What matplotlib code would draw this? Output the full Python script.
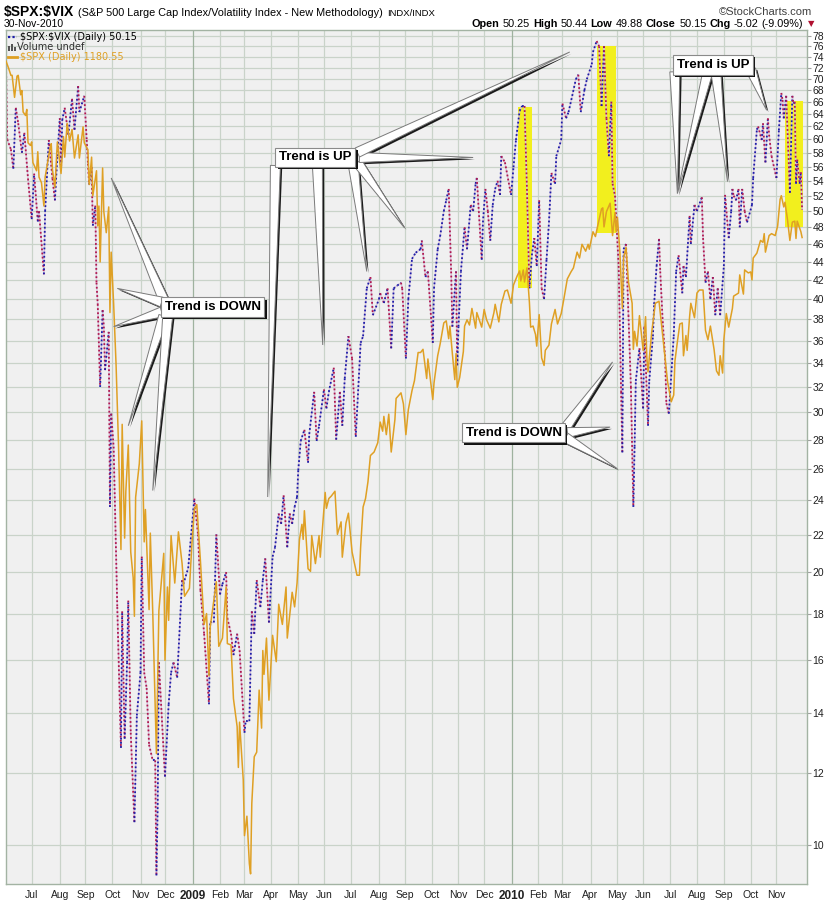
import numpy as np
import pandas as pd
import matplotlib
matplotlib.use("Agg")
import matplotlib.pyplot as plt
from matplotlib.collections import LineCollection
from matplotlib.patches import Rectangle, Polygon
from matplotlib.lines import Line2D
from matplotlib.transforms import IdentityTransform
import matplotlib.patheffects as pe

plt.rcParams["font.family"] = ["Liberation Sans", "DejaVu Sans"]

# $SPX:$VIX ratio (daily)
ratio_dates = [
    "2008-06-02", "2008-06-03", "2008-06-06", "2008-06-10", "2008-06-12", "2008-06-16", "2008-06-19",
    "2008-06-23", "2008-06-26", "2008-07-01", "2008-07-03", "2008-07-08", "2008-07-09", "2008-07-15",
    "2008-07-16", "2008-07-21", "2008-07-24", "2008-07-28", "2008-07-30", "2008-08-01", "2008-08-04",
    "2008-08-05", "2008-08-07", "2008-08-12", "2008-08-15", "2008-08-19", "2008-08-22", "2008-08-25",
    "2008-08-29", "2008-09-02", "2008-09-03", "2008-09-04", "2008-09-08", "2008-09-09", "2008-09-11",
    "2008-09-12", "2008-09-15", "2008-09-17", "2008-09-19", "2008-09-22", "2008-09-23", "2008-09-26",
    "2008-09-29", "2008-09-30", "2008-10-02", "2008-10-07", "2008-10-10", "2008-10-13", "2008-10-15",
    "2008-10-17", "2008-10-20", "2008-10-22", "2008-10-27", "2008-10-29", "2008-11-03", "2008-11-04",
    "2008-11-06", "2008-11-10", "2008-11-12", "2008-11-17", "2008-11-19", "2008-11-20", "2008-11-21",
    "2008-11-24", "2008-12-01", "2008-12-04", "2008-12-08", "2008-12-10", "2008-12-15", "2008-12-19",
    "2008-12-22", "2008-12-26", "2009-01-02", "2009-01-07", "2009-01-09", "2009-01-14", "2009-01-20",
    "2009-01-21", "2009-01-26", "2009-01-28", "2009-02-02", "2009-02-04", "2009-02-09", "2009-02-10",
    "2009-02-13", "2009-02-17", "2009-02-20", "2009-02-24", "2009-03-02", "2009-03-03", "2009-03-06",
    "2009-03-10", "2009-03-12", "2009-03-16", "2009-03-19", "2009-03-23", "2009-03-25", "2009-03-30",
    "2009-04-02", "2009-04-06", "2009-04-09", "2009-04-13", "2009-04-15", "2009-04-20", "2009-04-22",
    "2009-04-24", "2009-04-28", "2009-04-30", "2009-05-01", "2009-05-05", "2009-05-08", "2009-05-13",
    "2009-05-14", "2009-05-20", "2009-05-22", "2009-05-26", "2009-06-01", "2009-06-03", "2009-06-05",
    "2009-06-11", "2009-06-15", "2009-06-18", "2009-06-22", "2009-06-24", "2009-06-29", "2009-07-02",
    "2009-07-07", "2009-07-13", "2009-07-15", "2009-07-20", "2009-07-23", "2009-07-27", "2009-08-03",
    "2009-08-04", "2009-08-07", "2009-08-12", "2009-08-17", "2009-08-19", "2009-08-24", "2009-08-27",
    "2009-08-28", "2009-09-02", "2009-09-04", "2009-09-09", "2009-09-14", "2009-09-18", "2009-09-21",
    "2009-09-24", "2009-09-28", "2009-10-02", "2009-10-05", "2009-10-08", "2009-10-12", "2009-10-15",
    "2009-10-19", "2009-10-21", "2009-10-23", "2009-10-26", "2009-10-29", "2009-10-30", "2009-11-02",
    "2009-11-04", "2009-11-09", "2009-11-11", "2009-11-16", "2009-11-18", "2009-11-20", "2009-11-23",
    "2009-11-27", "2009-11-30", "2009-12-02", "2009-12-04", "2009-12-08", "2009-12-10", "2009-12-14",
    "2009-12-16", "2009-12-18", "2009-12-21", "2009-12-24", "2009-12-31", "2010-01-04", "2010-01-06",
    "2010-01-11", "2010-01-13", "2010-01-15", "2010-01-19", "2010-01-21", "2010-01-25", "2010-01-27",
    "2010-01-29", "2010-02-02", "2010-02-04", "2010-02-08", "2010-02-10", "2010-02-12", "2010-02-16",
    "2010-02-19", "2010-02-22", "2010-02-26", "2010-03-01", "2010-03-04", "2010-03-08", "2010-03-11",
    "2010-03-16", "2010-03-18", "2010-03-22", "2010-03-25", "2010-03-29", "2010-04-02", "2010-04-05",
    "2010-04-08", "2010-04-12", "2010-04-14", "2010-04-16", "2010-04-20", "2010-04-22", "2010-04-26",
    "2010-04-27", "2010-04-29", "2010-05-04", "2010-05-06", "2010-05-07", "2010-05-10", "2010-05-12",
    "2010-05-14", "2010-05-18", "2010-05-20", "2010-05-21", "2010-05-24", "2010-05-27", "2010-06-01",
    "2010-06-02", "2010-06-07", "2010-06-08", "2010-06-11", "2010-06-14", "2010-06-16", "2010-06-18",
    "2010-06-21", "2010-06-23", "2010-06-25", "2010-06-28", "2010-06-30", "2010-07-06", "2010-07-08",
    "2010-07-12", "2010-07-15", "2010-07-16", "2010-07-20", "2010-07-23", "2010-07-26", "2010-07-29",
    "2010-08-02", "2010-08-06", "2010-08-09", "2010-08-11", "2010-08-13", "2010-08-17", "2010-08-19",
    "2010-08-23", "2010-08-25", "2010-08-27", "2010-09-01", "2010-09-02", "2010-09-07", "2010-09-09",
    "2010-09-10", "2010-09-13", "2010-09-15", "2010-09-17", "2010-09-20", "2010-09-22", "2010-09-24",
    "2010-09-28", "2010-10-04", "2010-10-05", "2010-10-08", "2010-10-11", "2010-10-14", "2010-10-15",
    "2010-10-19", "2010-10-21", "2010-10-22", "2010-10-26", "2010-11-01", "2010-11-03", "2010-11-05",
    "2010-11-08", "2010-11-09", "2010-11-11", "2010-11-16", "2010-11-18", "2010-11-19", "2010-11-22",
    "2010-11-23", "2010-11-24", "2010-11-26", "2010-11-29", "2010-11-30",
]
ratio_vals = [
    72.7, 60.0, 58.5, 55.7, 65.0, 62.5, 58.0,
    61.0, 54.3, 49.0, 55.0, 48.7, 50.0, 42.6,
    50.0, 59.9, 54.3, 51.4, 57.5, 63.3, 55.4,
    63.0, 65.0, 60.7, 66.5, 61.5, 68.7, 64.3,
    67.0, 59.9, 56.4, 53.5, 55.9, 48.2, 50.7,
    41.7, 39.5, 32.0, 38.9, 37.3, 33.4, 36.8,
    23.6, 29.9, 27.5, 18.3, 12.8, 18.1, 13.1,
    15.9, 18.6, 13.3, 10.6, 13.9, 15.5, 20.8,
    15.5, 14.9, 12.9, 12.4, 12.4, 9.26, 10.96,
    15.9, 11.9, 14.3, 15.5, 15.9, 15.3, 19.6,
    19.4, 20.2, 24.1, 22.0, 19.1, 17.1, 14.3,
    17.6, 17.6, 22.0, 18.9, 19.4, 20.0, 17.8,
    17.1, 16.2, 17.1, 16.4, 13.3, 13.7, 13.7,
    18.1, 17.1, 19.6, 18.3, 19.6, 20.7, 17.6,
    20.8, 21.3, 23.2, 22.6, 24.3, 21.3, 23.2,
    22.6, 23.6, 24.2, 25.9, 27.9, 28.7, 26.4,
    28.4, 31.6, 27.9, 29.0, 31.8, 30.3, 31.6,
    33.6, 28.0, 31.6, 29.0, 32.7, 36.4, 34.4,
    28.2, 35.8, 36.4, 41.1, 42.3, 38.4, 40.0,
    40.6, 39.6, 41.1, 35.3, 41.1, 41.4, 41.7,
    41.1, 34.4, 40.0, 44.3, 45.0, 45.4, 46.4,
    42.3, 42.9, 35.8, 41.1, 45.4, 46.9, 50.0,
    51.4, 52.9, 42.9, 37.3, 42.9, 33.8, 37.3,
    42.9, 48.0, 45.4, 50.8, 50.0, 53.6, 54.4,
    44.2, 48.6, 52.9, 50.0, 46.4, 50.8, 52.9,
    54.0, 52.1, 57.5, 56.6, 52.1, 55.9, 59.9,
    64.5, 65.3, 65.3, 52.9, 41.1, 44.7, 46.7,
    43.5, 51.4, 41.1, 40.0, 44.2, 48.6, 55.1,
    53.6, 57.5, 59.9, 65.7, 63.3, 64.3, 67.0,
    69.9, 70.7, 64.3, 68.0, 69.9, 72.6, 74.9,
    77.0, 76.0, 65.3, 76.0, 63.3, 57.5, 66.0,
    53.6, 52.0, 43.5, 31.6, 27.1, 45.4, 46.0,
    38.4, 32.0, 23.6, 27.5, 32.5, 35.3, 30.3,
    37.3, 29.0, 32.5, 36.4, 39.5, 43.5, 46.6,
    42.9, 37.8, 34.4, 30.7, 29.9, 36.4, 42.9,
    44.7, 40.6, 43.5, 42.3, 49.4, 46.0, 50.8,
    50.0, 51.8, 46.7, 41.7, 42.9, 40.0, 42.3,
    38.4, 41.1, 38.4, 43.5, 52.1, 46.7, 50.0,
    52.9, 52.0, 51.4, 52.9, 48.0, 52.9, 50.0,
    48.6, 50.8, 54.4, 61.5, 62.0, 59.9, 62.5,
    56.6, 63.3, 60.7, 57.5, 54.4, 61.4, 67.5,
    66.3, 63.3, 67.0, 52.4, 67.0, 65.7, 66.0,
    53.6, 57.0, 53.6, 55.2, 50.15,
]

# $SPX overlay (daily close, own scale)
spx_dates = [
    "2008-06-02", "2008-06-04", "2008-06-06", "2008-06-09", "2008-06-11", "2008-06-13", "2008-06-16",
    "2008-06-18", "2008-06-19", "2008-06-20", "2008-06-24", "2008-06-25", "2008-06-26", "2008-06-30",
    "2008-07-01", "2008-07-02", "2008-07-07", "2008-07-08", "2008-07-09", "2008-07-11", "2008-07-15",
    "2008-07-16", "2008-07-18", "2008-07-22", "2008-07-23", "2008-07-24", "2008-07-28", "2008-07-30",
    "2008-08-01", "2008-08-04", "2008-08-06", "2008-08-07", "2008-08-11", "2008-08-13", "2008-08-15",
    "2008-08-19", "2008-08-22", "2008-08-25", "2008-08-28", "2008-08-29", "2008-09-03", "2008-09-04",
    "2008-09-08", "2008-09-09", "2008-09-12", "2008-09-15", "2008-09-16", "2008-09-17", "2008-09-19",
    "2008-09-22", "2008-09-24", "2008-09-26", "2008-09-29", "2008-09-30", "2008-10-02", "2008-10-06",
    "2008-10-08", "2008-10-10", "2008-10-13", "2008-10-15", "2008-10-16", "2008-10-20", "2008-10-22",
    "2008-10-24", "2008-10-27", "2008-10-28", "2008-10-31", "2008-11-04", "2008-11-06", "2008-11-07",
    "2008-11-12", "2008-11-13", "2008-11-17", "2008-11-20", "2008-11-21", "2008-11-24", "2008-11-28",
    "2008-12-01", "2008-12-03", "2008-12-04", "2008-12-08", "2008-12-11", "2008-12-16", "2008-12-19",
    "2008-12-23", "2008-12-29", "2008-12-31", "2009-01-02", "2009-01-06", "2009-01-09", "2009-01-14",
    "2009-01-16", "2009-01-20", "2009-01-21", "2009-01-28", "2009-01-30", "2009-02-04", "2009-02-09",
    "2009-02-10", "2009-02-13", "2009-02-17", "2009-02-20", "2009-02-23", "2009-02-24", "2009-02-27",
    "2009-03-02", "2009-03-04", "2009-03-06", "2009-03-09", "2009-03-10", "2009-03-12", "2009-03-16",
    "2009-03-18", "2009-03-20", "2009-03-23", "2009-03-24", "2009-03-26", "2009-03-30", "2009-04-02",
    "2009-04-07", "2009-04-09", "2009-04-14", "2009-04-17", "2009-04-20", "2009-04-24", "2009-04-28",
    "2009-04-30", "2009-05-04", "2009-05-06", "2009-05-07", "2009-05-08", "2009-05-13", "2009-05-15",
    "2009-05-18", "2009-05-21", "2009-05-26", "2009-05-27", "2009-05-29", "2009-06-02", "2009-06-03",
    "2009-06-05", "2009-06-09", "2009-06-12", "2009-06-16", "2009-06-19", "2009-06-22", "2009-06-25",
    "2009-06-29", "2009-07-02", "2009-07-08", "2009-07-10", "2009-07-13", "2009-07-15", "2009-07-17",
    "2009-07-21", "2009-07-23", "2009-07-28", "2009-07-31", "2009-08-04", "2009-08-06", "2009-08-07",
    "2009-08-11", "2009-08-13", "2009-08-17", "2009-08-20", "2009-08-21", "2009-08-27", "2009-08-31",
    "2009-09-02", "2009-09-04", "2009-09-09", "2009-09-11", "2009-09-16", "2009-09-18", "2009-09-22",
    "2009-09-25", "2009-09-28", "2009-10-02", "2009-10-05", "2009-10-08", "2009-10-12", "2009-10-15",
    "2009-10-19", "2009-10-21", "2009-10-22", "2009-10-26", "2009-10-28", "2009-10-29", "2009-10-30",
    "2009-11-03", "2009-11-06", "2009-11-09", "2009-11-11", "2009-11-13", "2009-11-17", "2009-11-20",
    "2009-11-23", "2009-11-27", "2009-12-01", "2009-12-03", "2009-12-08", "2009-12-11", "2009-12-14",
    "2009-12-17", "2009-12-21", "2009-12-24", "2009-12-28", "2009-12-31", "2010-01-04", "2010-01-07",
    "2010-01-11", "2010-01-12", "2010-01-14", "2010-01-15", "2010-01-19", "2010-01-21", "2010-01-22",
    "2010-01-26", "2010-01-28", "2010-01-29", "2010-02-02", "2010-02-04", "2010-02-08", "2010-02-09",
    "2010-02-12", "2010-02-16", "2010-02-19", "2010-02-23", "2010-02-26", "2010-03-02", "2010-03-05",
    "2010-03-10", "2010-03-12", "2010-03-17", "2010-03-19", "2010-03-23", "2010-03-26", "2010-03-30",
    "2010-03-31", "2010-04-05", "2010-04-07", "2010-04-09", "2010-04-14", "2010-04-15", "2010-04-16",
    "2010-04-20", "2010-04-23", "2010-04-27", "2010-04-29", "2010-04-30", "2010-05-03", "2010-05-05",
    "2010-05-07", "2010-05-10", "2010-05-12", "2010-05-14", "2010-05-19", "2010-05-20", "2010-05-21",
    "2010-05-25", "2010-05-27", "2010-06-01", "2010-06-03", "2010-06-04", "2010-06-07", "2010-06-10",
    "2010-06-15", "2010-06-18", "2010-06-22", "2010-06-24", "2010-06-29", "2010-07-02", "2010-07-06",
    "2010-07-07", "2010-07-09", "2010-07-13", "2010-07-15", "2010-07-16", "2010-07-20", "2010-07-21",
    "2010-07-23", "2010-07-26", "2010-07-29", "2010-08-02", "2010-08-04", "2010-08-09", "2010-08-11",
    "2010-08-13", "2010-08-17", "2010-08-20", "2010-08-24", "2010-08-26", "2010-08-27", "2010-08-31",
    "2010-09-01", "2010-09-03", "2010-09-07", "2010-09-10", "2010-09-13", "2010-09-17", "2010-09-20",
    "2010-09-23", "2010-09-24", "2010-09-29", "2010-10-01", "2010-10-04", "2010-10-05", "2010-10-08",
    "2010-10-13", "2010-10-15", "2010-10-18", "2010-10-19", "2010-10-22", "2010-10-26", "2010-10-29",
    "2010-11-02", "2010-11-04", "2010-11-05", "2010-11-09", "2010-11-10", "2010-11-12", "2010-11-16",
    "2010-11-18", "2010-11-22", "2010-11-23", "2010-11-24", "2010-11-29", "2010-11-30",
]
spx_vals = [
    1378, 1370, 1361, 1361, 1335, 1360, 1361,
    1338, 1343, 1318, 1314, 1321, 1283, 1280,
    1284, 1261, 1252, 1273, 1245, 1239, 1214,
    1245, 1261, 1277, 1282, 1253, 1234, 1284,
    1260, 1249, 1290, 1267, 1305, 1285, 1298,
    1266, 1292, 1266, 1301, 1283, 1275, 1237,
    1267, 1225, 1252, 1193, 1214, 1156, 1255,
    1208, 1186, 1213, 1106, 1166, 1115, 1057,
    985, 899, 1003, 908, 946, 985, 897,
    877, 848, 941, 969, 1006, 905, 931,
    853, 912, 851, 752, 800, 852, 896,
    816, 870, 845, 910, 873, 913, 888,
    863, 869, 903, 931, 935, 890, 842,
    850, 805, 840, 874, 826, 832, 870,
    828, 827, 789, 770, 743, 773, 735,
    700, 712, 683, 677, 720, 750, 753,
    795, 769, 823, 806, 832, 788, 834,
    815, 857, 842, 870, 832, 866, 855,
    873, 907, 919, 907, 930, 884, 882,
    910, 888, 910, 893, 919, 945, 932,
    940, 942, 946, 911, 921, 893, 920,
    928, 897, 879, 879, 901, 933, 940,
    954, 976, 979, 987, 1005, 997, 1010,
    994, 1012, 979, 1007, 1026, 1031, 1021,
    994, 1016, 1033, 1042, 1068, 1068, 1071,
    1044, 1062, 1025, 1040, 1065, 1076, 1096,
    1098, 1081, 1093, 1067, 1043, 1067, 1036,
    1045, 1069, 1093, 1099, 1094, 1110, 1091,
    1106, 1092, 1109, 1099, 1091, 1106, 1114,
    1097, 1114, 1127, 1128, 1115, 1133, 1142,
    1147, 1137, 1148, 1136, 1150, 1116, 1092,
    1093, 1085, 1074, 1104, 1063, 1056, 1070,
    1075, 1095, 1109, 1095, 1105, 1118, 1139,
    1146, 1150, 1166, 1160, 1174, 1167, 1174,
    1169, 1187, 1182, 1194, 1211, 1212, 1192,
    1208, 1217, 1183, 1207, 1187, 1202, 1166,
    1110, 1160, 1171, 1136, 1115, 1071, 1088,
    1074, 1103, 1070, 1102, 1064, 1050, 1087,
    1115, 1117, 1095, 1074, 1041, 1023, 1029,
    1060, 1078, 1095, 1096, 1065, 1084, 1070,
    1102, 1115, 1101, 1125, 1128, 1128, 1089,
    1080, 1093, 1071, 1051, 1047, 1065, 1049,
    1080, 1105, 1092, 1110, 1122, 1125, 1143,
    1124, 1148, 1145, 1146, 1138, 1160, 1165,
    1178, 1176, 1185, 1166, 1183, 1185, 1183,
    1193, 1221, 1225, 1213, 1218, 1200, 1178,
    1197, 1198, 1180, 1198, 1187, 1181,
]

month_labels = ["Jul", "Aug", "Sep", "Oct", "Nov", "Dec",
                "2009", "Feb", "Mar", "Apr", "May", "Jun", "Jul", "Aug", "Sep", "Oct", "Nov", "Dec",
                "2010", "Feb", "Mar", "Apr", "May", "Jun", "Jul", "Aug", "Sep", "Oct", "Nov"]
ratio_ticks = list(range(10, 80, 2))

# yellow highlight boxes
hl_start = ["2010-01-08", "2010-04-08", "2010-11-10"]
hl_end = ["2010-01-25", "2010-04-30", "2010-12-01"]
hl_low = [41.1, 47.3, 48.0]
hl_high = [65.1, 76.0, 66.2]

# callouts: text, box anchor (date, ratio), pointers ((base offset px), tip date, tip ratio)
callouts = [
    ("Trend is DOWN", "2009-01-23", 39.2,
     [((-49, 7), "2008-09-30", 54.4), ((-51, 5), "2008-10-07", 41.1), ((-51, -5), "2008-10-02", 37.3),
      ((-49, -9), "2008-10-20", 29.0), ((-45, -9), "2008-11-17", 24.6)]),
    ("Trend is UP", "2009-05-21", 57.3,
     [((-40, -8), "2009-03-27", 24.2), ((2, -8), "2009-05-29", 35.6), ((38, -8), "2009-07-20", 42.9),
      ((42, -5), "2009-09-01", 47.9), ((44, 0), "2009-11-18", 57.3), ((42, 5), "2010-03-09", 74.9)]),
    ("Trend is DOWN", "2010-01-04", 28.5,
     [((52, 5), "2010-04-27", 34.1), ((54, 0), "2010-04-23", 28.9), ((52, -5), "2010-05-03", 26.0)]),
    ("Trend is UP", "2010-08-19", 72.5,
     [((-38, -7), "2010-07-09", 52.3), ((-5, -7), "2010-07-09", 52.3), ((3, -7), "2010-09-06", 53.9),
      ((38, -5), "2010-10-20", 64.6)]),
]

UP = "#1c1ca8"
DOWN = "#b0184e"
SPX_COLOR = "#dfa024"
GRID = "#c9d3c9"

START = np.datetime64("2008-06-02")


def bpos(dates):
    return np.busday_count(START, np.array(dates, dtype="datetime64[D]")).astype(float)


W, H = 831, 900


def fx(px):
    return px / W


def fy(py):
    return 1 - py / H


fig = plt.figure(figsize=(W / 100, H / 100), dpi=100)
ax = fig.add_axes([fx(6), fy(884), (807 - 6) / W, (884 - 30) / H])
ax.set_facecolor("#f0f0f0")
ax.set_yscale("log")
ax.set_ylim(9.06, 79.2)
ax.set_xlim(bpos("2008-06-02"), bpos("2010-12-06"))

# SPX overlay on its own log scale (created early so the ratio axis keeps its right-hand ticks)
ax2 = ax.twinx()
ax2.set_yscale("log")
ax2.set_ylim(671, 1416)
ax2.yaxis.set_major_locator(matplotlib.ticker.NullLocator())
ax2.yaxis.set_minor_locator(matplotlib.ticker.NullLocator())
for s in ax2.spines.values():
    s.set_visible(False)
ax2.plot(bpos(spx_dates), spx_vals, color=SPX_COLOR, lw=1.1)

# grid and ticks
ax.set_axisbelow(True)
ax.set_yticks(ratio_ticks)
ax.set_yticklabels([str(t) for t in ratio_ticks])
ax.yaxis.set_minor_locator(matplotlib.ticker.NullLocator())
ax.yaxis.tick_right()
ax.tick_params(axis="y", which="major", left=False, labelleft=False, right=True, labelright=True,
               length=3, width=0.8, color="#a0a0a0", labelsize=7.5, pad=1, labelcolor="#202020")
ax.grid(axis="y", color=GRID, lw=0.9)

month_starts = pd.date_range("2008-07-01", "2010-11-01", freq="MS").strftime("%Y-%m-%d").tolist()
xt = bpos(month_starts)
ax.set_xticks(xt)
ax.set_xticklabels(month_labels)
ax.tick_params(axis="x", length=0, pad=4, labelsize=7.5, labelcolor="#202020")
for lbl in ax.get_xticklabels():
    if lbl.get_text().isdigit():
        lbl.set_fontweight("bold")
        lbl.set_fontsize(8.5)
for x, lab in zip(xt, month_labels):
    ax.axvline(x, color="#9fb29f" if lab.isdigit() else GRID, lw=0.9, zorder=0.6)

for s in ax.spines.values():
    s.set_color("#a3b3a3")
    s.set_linewidth(1)

# highlights
for s0, s1, lo, hi in zip(hl_start, hl_end, hl_low, hl_high):
    x0, x1 = bpos(s0), bpos(s1)
    ax.add_patch(Rectangle((x0, lo), x1 - x0, hi - lo, fc="#f2ef1e", ec="none", zorder=1))

# ratio line, dotted, coloured by direction
rx = bpos(ratio_dates)
ry = np.array(ratio_vals)
pts = np.column_stack([rx, ry])
segs = np.stack([pts[:-1], pts[1:]], axis=1)
cols = [UP if b >= a else DOWN for a, b in zip(ry[:-1], ry[1:])]
ax.add_collection(LineCollection(segs, colors="#d6c2dc", linewidths=1.0, zorder=2))
ax.add_collection(LineCollection(segs, colors=cols, linewidths=1.3,
                                 linestyles=[(0, (1, 1.3))], zorder=2.1))

# callouts
ident = IdentityTransform()
for text, d, v, ptrs in callouts:
    cx, cy = ax.transData.transform((bpos(d), v))
    for (ox, oy), td, tv in ptrs:
        tx, ty = ax.transData.transform((bpos(td), tv))
        bx, by = cx + ox, cy + oy
        dx, dy = tx - bx, ty - by
        n = np.hypot(dx, dy)
        nx, ny = -dy / n * 5, dx / n * 5
        tri = np.array([[bx + nx, by + ny], [tx, ty], [bx - nx, by - ny]])
        fig.add_artist(Polygon(tri + [1.8, -1.8], closed=True, fc="#1a1a1a", ec="none",
                               transform=ident, zorder=4))
        fig.add_artist(Polygon(tri, closed=True, fc="white", ec="#7a7a7a", lw=0.7,
                               transform=ident, zorder=4.1))
    sx, sy = fig.transFigure.inverted().transform((cx, cy))
    t = fig.text(sx, sy, text, fontsize=9.5, fontweight="bold", color="black", ha="center",
                 va="center", zorder=5,
                 bbox=dict(boxstyle="square,pad=0.28", fc="white", ec="#8a8a8a", lw=0.8))
    t.get_bbox_patch().set_path_effects(
        [pe.SimplePatchShadow(offset=(1.6, -1.6), shadow_rgbFace="#111111", alpha=1.0), pe.Normal()])

# header
t0 = fig.text(fx(4), fy(12), r"\$SPX:\$VIX", fontsize=10, fontweight="bold", va="center")
t1 = ax.annotate("(S&P 500 Large Cap Index/Volatility Index - New Methodology)", xy=(1, 0),
                 xycoords=t0, xytext=(3, 0.5), textcoords="offset points", fontsize=7.8,
                 va="bottom", annotation_clip=False)
ax.annotate("INDX/INDX", xy=(1, 0), xycoords=t1, xytext=(3, 0.5), textcoords="offset points",
            fontsize=6.8, va="bottom", annotation_clip=False)
fig.text(fx(812), fy(12), "\u00a9StockCharts.com", fontsize=8, va="center", ha="right", color="#404040")
fig.text(fx(4), fy(24), "30-Nov-2010", fontsize=7.5, va="center")

stats = [("(-9.09%)", "normal"), ("-5.02", "normal"), ("Chg", "bold"), ("50.15", "normal"),
         ("Close", "bold"), ("49.88", "normal"), ("Low", "bold"), ("50.44", "normal"),
         ("High", "bold"), ("50.25", "normal"), ("Open", "bold")]
prev = fig.text(fx(803), fy(24), stats[0][0], fontsize=7.8, ha="right", va="center")
for s, w in stats[1:]:
    gap = -2.5 if w == "bold" else -2
    prev = ax.annotate(s, xy=(0, 0), xycoords=prev, xytext=(gap, 0), textcoords="offset points",
                       ha="right", va="bottom", fontsize=7.8, fontweight=w, annotation_clip=False)
fig.text(fx(808), fy(24), "\u25bc", fontsize=6, color="#b01030", va="center", family="DejaVu Sans")

# legend block
fig.add_artist(Line2D([fx(8), fx(17)], [fy(37), fy(37)], color=UP, lw=1.6, ls=(0, (1, 1))))
fig.text(fx(20), fy(37), r"\$SPX:\$VIX (Daily) 50.15", fontsize=7, va="center", family="DejaVu Sans")
for i, hgt in enumerate([5, 7, 4]):
    fig.add_artist(Rectangle((fx(8 + i * 3), fy(51)), 2 / W, hgt / H, fc="#555555", ec="none"))
fig.text(fx(17), fy(47), "Volume undef", fontsize=7, va="center", family="DejaVu Sans", color="#303030")
fig.add_artist(Line2D([fx(8), fx(17)], [fy(57), fy(57)], color=SPX_COLOR, lw=2))
fig.text(fx(20), fy(57), r"\$SPX (Daily) 1180.55", fontsize=7, va="center", family="DejaVu Sans",
         color=SPX_COLOR)

fig.savefig("out.png", dpi=100, facecolor="white")
